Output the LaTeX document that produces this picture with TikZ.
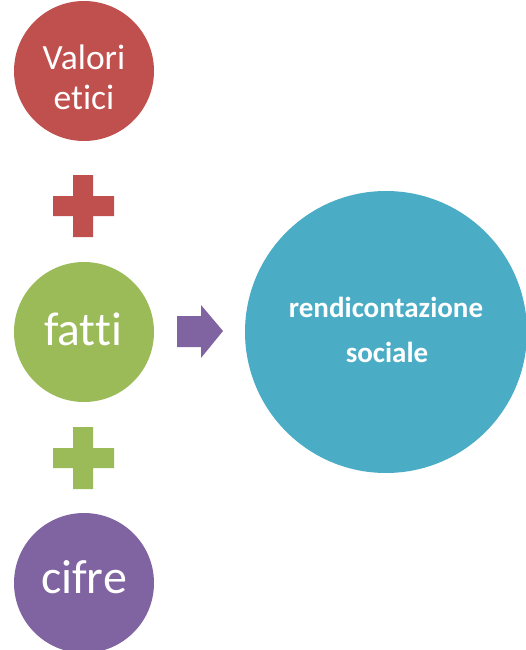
\documentclass[tikz,border=0pt]{standalone}
\usepackage{fontspec}
\setmainfont[Ligatures={NoCommon,NoRequired,NoContextual,NoRare},Contextuals=NoAlternate]{Carlito}
\definecolor{cred}{HTML}{C0504D}
\definecolor{cgreen}{HTML}{9BBB59}
\definecolor{cpurple}{HTML}{8064A2}
\definecolor{cteal}{HTML}{4BACC6}
\tikzset{
  disc/.style={circle, inner sep=0pt, minimum size=#1, draw=none},
  lbl/.style={anchor=base, inner sep=0pt, text=white},
}
\begin{document}
\begin{tikzpicture}[x=1pt,y=-1pt]
\useasboundingbox (0,0) rectangle (526,650);
% circles
\node[disc=140pt, fill=cred] (c1) at (84,71) {};
\node[disc=140pt, fill=cgreen] (c2) at (84,332) {};
\node[disc=140pt, fill=cpurple] (c3) at (84,583) {};
\node[disc=282pt, fill=cteal] (c4) at (386,332) {};
% texts
\node[lbl, font=\fontsize{35.5}{40}\selectfont] (t1a) at (84,70) {Valori};
\node[lbl, font=\fontsize{35.5}{40}\selectfont] (t1b) at (84,110) {et\kern0pt ici};
\node[lbl, font=\fontsize{47.5}{55}\selectfont] (t2) at (83,345) {fatt\kern0pt i};
\node[lbl, font=\fontsize{48}{55}\selectfont] (t3) at (84,593) {cifre};
\node[lbl, font=\fontsize{29}{34}\selectfont\bfseries] (t4a) at (386,317) {rendicontazione};
\node[lbl, font=\fontsize{29}{34}\selectfont\bfseries] (t4b) at (387,362) {sociale};
% plus signs
\fill[cred] (73,175) rectangle (93,237) (53,196) rectangle (114,216);
\fill[cgreen] (73,427) rectangle (93,489) (53,448) rectangle (114,468);
% arrow
\fill[cpurple] (177,316) -- (201,316) -- (201,305) -- (223,331) -- (201,358) -- (201,347) -- (177,347) -- cycle;
\end{tikzpicture}
\end{document}
